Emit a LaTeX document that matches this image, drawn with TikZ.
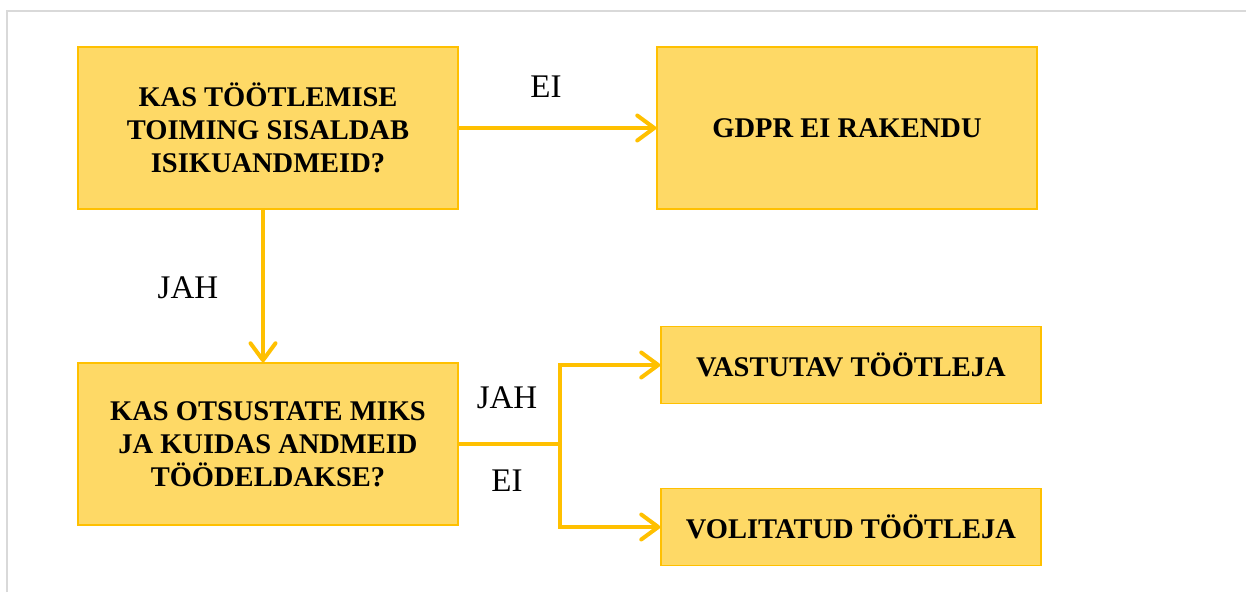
\documentclass[tikz,border=0pt]{standalone}
\usepackage{fontspec}
\setmainfont{Liberation Serif}
\usetikzlibrary{arrows.meta}
\definecolor{boxfill}{HTML}{FED966}
\definecolor{boxline}{HTML}{FFC000}
\definecolor{framegray}{HTML}{D9D9D9}

\begin{document}
\begin{tikzpicture}[x=1pt, y=-1pt,
  question/.style={draw=boxline, fill=boxfill, line width=1.5pt, minimum width=380pt, minimum height=162pt, inner sep=0pt, align=center, font=\fontsize{28.5}{33}\selectfont\bfseries},
  answer/.style={question, minimum height=77pt},
  flow/.style={draw=boxline, line width=4pt, -{Straight Barb[length=17pt, width=25pt, line width=4pt, round]}},
  label/.style={font=\fontsize{33}{38}\selectfont}]
	\useasboundingbox (0,0) rectangle (1246,592);
	\draw[framegray, line width=2pt] (7,592) -- (7,11) -- (1246,11);

	\node[question] (isik) at (268,128) {KAS TÖÖTLEMISE\\TOIMING SISALDAB\\ISIKUANDMEID?};
	\node[question] (gdpr) at (847,128) {GDPR EI RAKENDU};
	\node[question] (otsus) at (268,444) {KAS OTSUSTATE MIKS\\JA KUIDAS ANDMEID\\TÖÖDELDAKSE?};
	\node[answer] (vastutav) at (851,365) {VASTUTAV TÖÖTLEJA};
	\node[answer] (volitatud) at (851,527) {VOLITATUD TÖÖTLEJA};

	\coordinate (haru) at (560,444);

	\node[label] (ei1) at (546,87) {EI};
	\node[label] (jah1) at (188,288) {JAH};
	\node[label] (jah2) at (507,398) {JAH};
	\node[label] (ei2) at (507,481) {EI};

	\draw[flow] (isik) -- (gdpr);
	\draw[flow] ([xshift=-5pt]isik.south) -- ([xshift=-5pt]otsus.north);
	\draw[boxline, line width=4pt] (otsus.east) -- (haru);
	\draw[flow] (haru) |- (vastutav.west);
	\draw[flow] (haru) |- (volitatud.west);
\end{tikzpicture}
\end{document}
